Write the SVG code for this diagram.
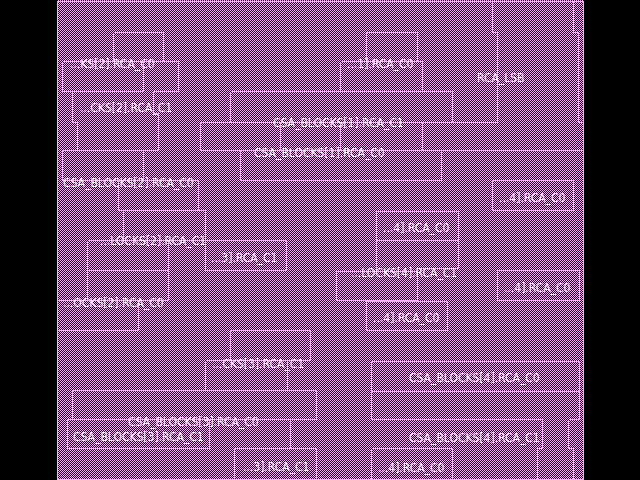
<svg xmlns="http://www.w3.org/2000/svg" width="640" height="480" viewBox="0 0 640 480">
<style>
.ol{fill:none;stroke:#f5b0f5;stroke-width:1;shape-rendering:crispEdges}
.lb{fill:#ffffff;font-family:'DejaVu Sans Condensed','DejaVu Sans',sans-serif;font-stretch:condensed;font-size:12px}
</style>
<defs>
<pattern id="chk" width="2" height="2" patternUnits="userSpaceOnUse">
<rect width="2" height="2" fill="#000"/>
<rect width="1" height="1" fill="#f5b0f5"/>
<rect x="1" y="1" width="1" height="1" fill="#f5b0f5"/>
</pattern>
</defs>
<rect width="640" height="480" fill="#000"/>
<rect x="57" y="0" width="527" height="480" fill="url(#chk)" shape-rendering="crispEdges"/>
<g id="outlines" class="ol" transform="translate(0.5,0.5)">
<path d="M57 1H583V479H57Z"/>
<path d="M113 32H163V61M113 32V61M62 61H178V91H153M62 61V91H143M143 61V91M72 91V122H77V150M153 91V113H158V150M62 150H158M62 150V180M143 150V180M62 180H198V210M118 180V210H205V270M123 210V240M87 240H286V270H205M87 240V300M168 240V300M87 270H168M57 300H168M138 300V330H57"/>
<path d="M230 91H452V122M230 91V122M200 122H497M200 122V150M280 122V150M340 122V150M422 122V150M200 150H583M240 150V180H441V150"/>
<path d="M366 32H417V61M366 32V61M340 61H422V91M340 61V91M492 1V32H497V122M573 1V32H578V122H583"/>
<path d="M492 180H573V210H492ZM376 211H458V240H376ZM376 240V271M458 240V268H417M336 271H417V300H336ZM497 270H579V300H497ZM366 301H447V330H366Z"/>
<path d="M230 330H310V360M230 330V360M205 360H310M205 360V390M287 360V390M72 390H316V419M72 390V419M67 419H316M67 419V448H209V419M290 419V448M234 448H316V480M234 448V480"/>
<path d="M371 361H579V419M371 361V419M371 391H579M371 419H542V448H537V480M568 419H579M568 419V448H573V480M371 448H452V480M371 448V480"/>
</g>
<g id="n1"><text class="lb" x="70" y="68">...KS[2].RCA_C0</text></g>
<g id="n2"><text class="lb" x="80" y="112">...CKS[2].RCA_C1</text></g>
<g id="n3"><text class="lb" x="273" y="127">CSA_BLOCKS[1].RCA_C1</text></g>
<g id="n4"><text class="lb" x="254" y="157">CSA_BLOCKS[1].RCA_C0</text></g>
<g id="n5"><text class="lb" x="347" y="68">...1].RCA_C0</text></g>
<g id="n6"><text class="lb" x="477" y="82">RCA_LSB</text></g>
<g id="n7"><text class="lb" x="63" y="187">CSA_BLOCKS[2].RCA_C0</text></g>
<g id="n8"><text class="lb" x="100" y="245">...LOCKS[2].RCA_C1</text></g>
<g id="n9"><text class="lb" x="211" y="262">...3].RCA_C1</text></g>
<g id="n10"><text class="lb" x="63" y="307">...OCKS[2].RCA_C0</text></g>
<g id="n11"><text class="lb" x="499" y="202">...4].RCA_C0</text></g>
<g id="n12"><text class="lb" x="383" y="232">...4].RCA_C0</text></g>
<g id="n13"><text class="lb" x="351" y="277">...LOCKS[4].RCA_C1</text></g>
<g id="n14"><text class="lb" x="504" y="292">...4].RCA_C0</text></g>
<g id="n15"><text class="lb" x="373" y="322">...4].RCA_C0</text></g>
<g id="n16"><text class="lb" x="212" y="368">...CKS[3].RCA_C1</text></g>
<g id="n17"><text class="lb" x="128" y="426">CSA_BLOCKS[3].RCA_C0</text></g>
<g id="n18"><text class="lb" x="73" y="441">CSA_BLOCKS[3].RCA_C1</text></g>
<g id="n19"><text class="lb" x="243" y="471">...3].RCA_C1</text></g>
<g id="n20"><text class="lb" x="409" y="382">CSA_BLOCKS[4].RCA_C0</text></g>
<g id="n21"><text class="lb" x="409" y="442">CSA_BLOCKS[4].RCA_C1</text></g>
<g id="n22"><text class="lb" x="378" y="472">...4].RCA_C0</text></g>
</svg>
